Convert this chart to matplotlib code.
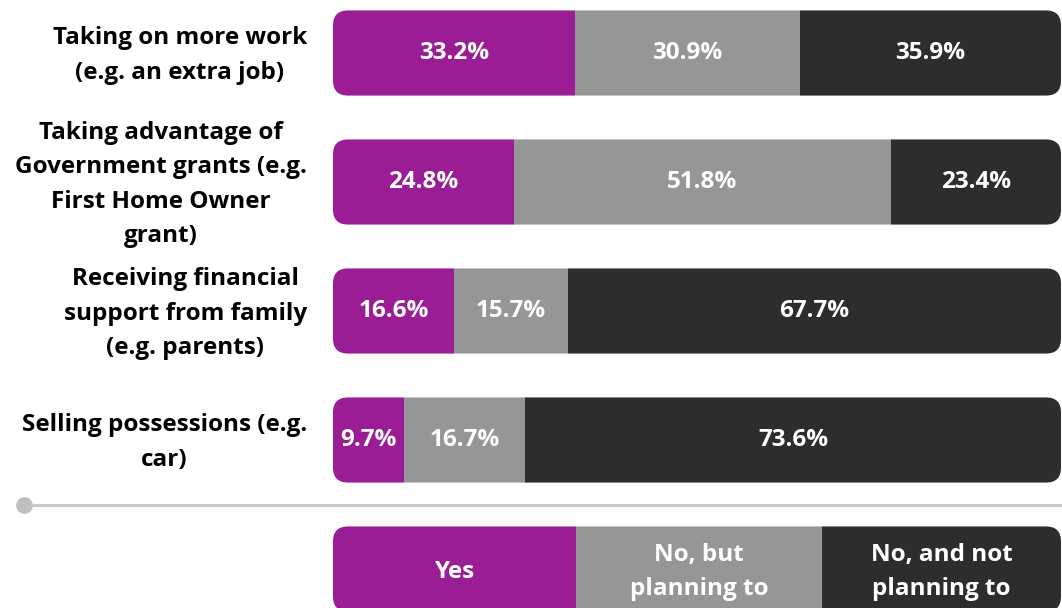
import matplotlib.pyplot as plt
import numpy as np
from matplotlib.patches import FancyBboxPatch

# --- Data ---
categories = [
    "Taking on more work\n(e.g. an extra job)",
    "Taking advantage of\nGovernment grants (e.g.\nFirst Home Owner\ngrant)",
    "Receiving financial\nsupport from family\n(e.g. parents)",
    "Selling possessions (e.g.\ncar)",
]
yes = [33.2, 24.8, 16.6, 9.7]
no_but_planning = [30.9, 51.8, 15.7, 16.7]
no_not_planning = [35.9, 23.4, 67.7, 73.6]
series_labels = ["Yes", "No, but\nplanning to", "No, and not\nplanning to"]
legend_widths = [33.4, 33.8, 32.8]

colors = ["#9A1D96", "#969696", "#2D2D2D"]
font = "Open Sans"

fig = plt.figure(figsize=(10.62, 6.08), dpi=100)
ax = fig.add_axes([0, 0, 1, 1])
# pixel layout: bars from x=333 to 1061 px, rows every 129 px starting at 53 px
px_per_pct = 7.28
row_px = 129
ax.set_xlim(-333 / px_per_pct, (1062 - 333) / px_per_pct)
ax.set_ylim((608 - 53) / row_px, -53 / row_px)
ax.axis("off")

bar_h = 0.66


def rounded_row(y, h, widths, labels, fontsize, text_dy=0.0):
    clip = FancyBboxPatch((0, y - h / 2), 100, h,
                          boxstyle=f"round,pad=0,rounding_size={15 / px_per_pct}",
                          mutation_aspect=px_per_pct / row_px,
                          facecolor="none", edgecolor="none",
                          transform=ax.transData)
    ax.add_patch(clip)
    left = 0
    for w, c, lab in zip(widths, colors, labels):
        bars = ax.barh(y, w, left=left, height=h, color=c, edgecolor="none")
        for b in bars:
            b.set_clip_path(clip)
        ax.text(left + w / 2, y + text_dy, lab, ha="center", va="center",
                color="white", fontsize=fontsize, fontweight="bold",
                family=font, linespacing=1.55)
        left += w


for i, cat in enumerate(categories):
    vals = [yes[i], no_but_planning[i], no_not_planning[i]]
    rounded_row(i, bar_h, vals, [f"{v:.1f}%" for v in vals], 17.5)
    ax.text(-3.6, i + 0.02, cat, ha="right", va="center", multialignment="center",
            fontsize=17.5, fontweight="bold", family=font, color="black",
            linespacing=1.58)

# separator line with dot
sep_y = (505 - 53) / row_px
ax.plot([-42.4, 100.2], [sep_y, sep_y], color="#C8C8C8", lw=2.2,
        solid_capstyle="butt", clip_on=False)
ax.plot([-42.4], [sep_y], marker="o", ms=11, color="#BFBFBF", clip_on=False)

# legend row
leg_y = (569 - 53) / row_px
rounded_row(leg_y, 0.66, legend_widths, series_labels, 17.5, text_dy=0.02)

fig.savefig("out.png", dpi=100)
